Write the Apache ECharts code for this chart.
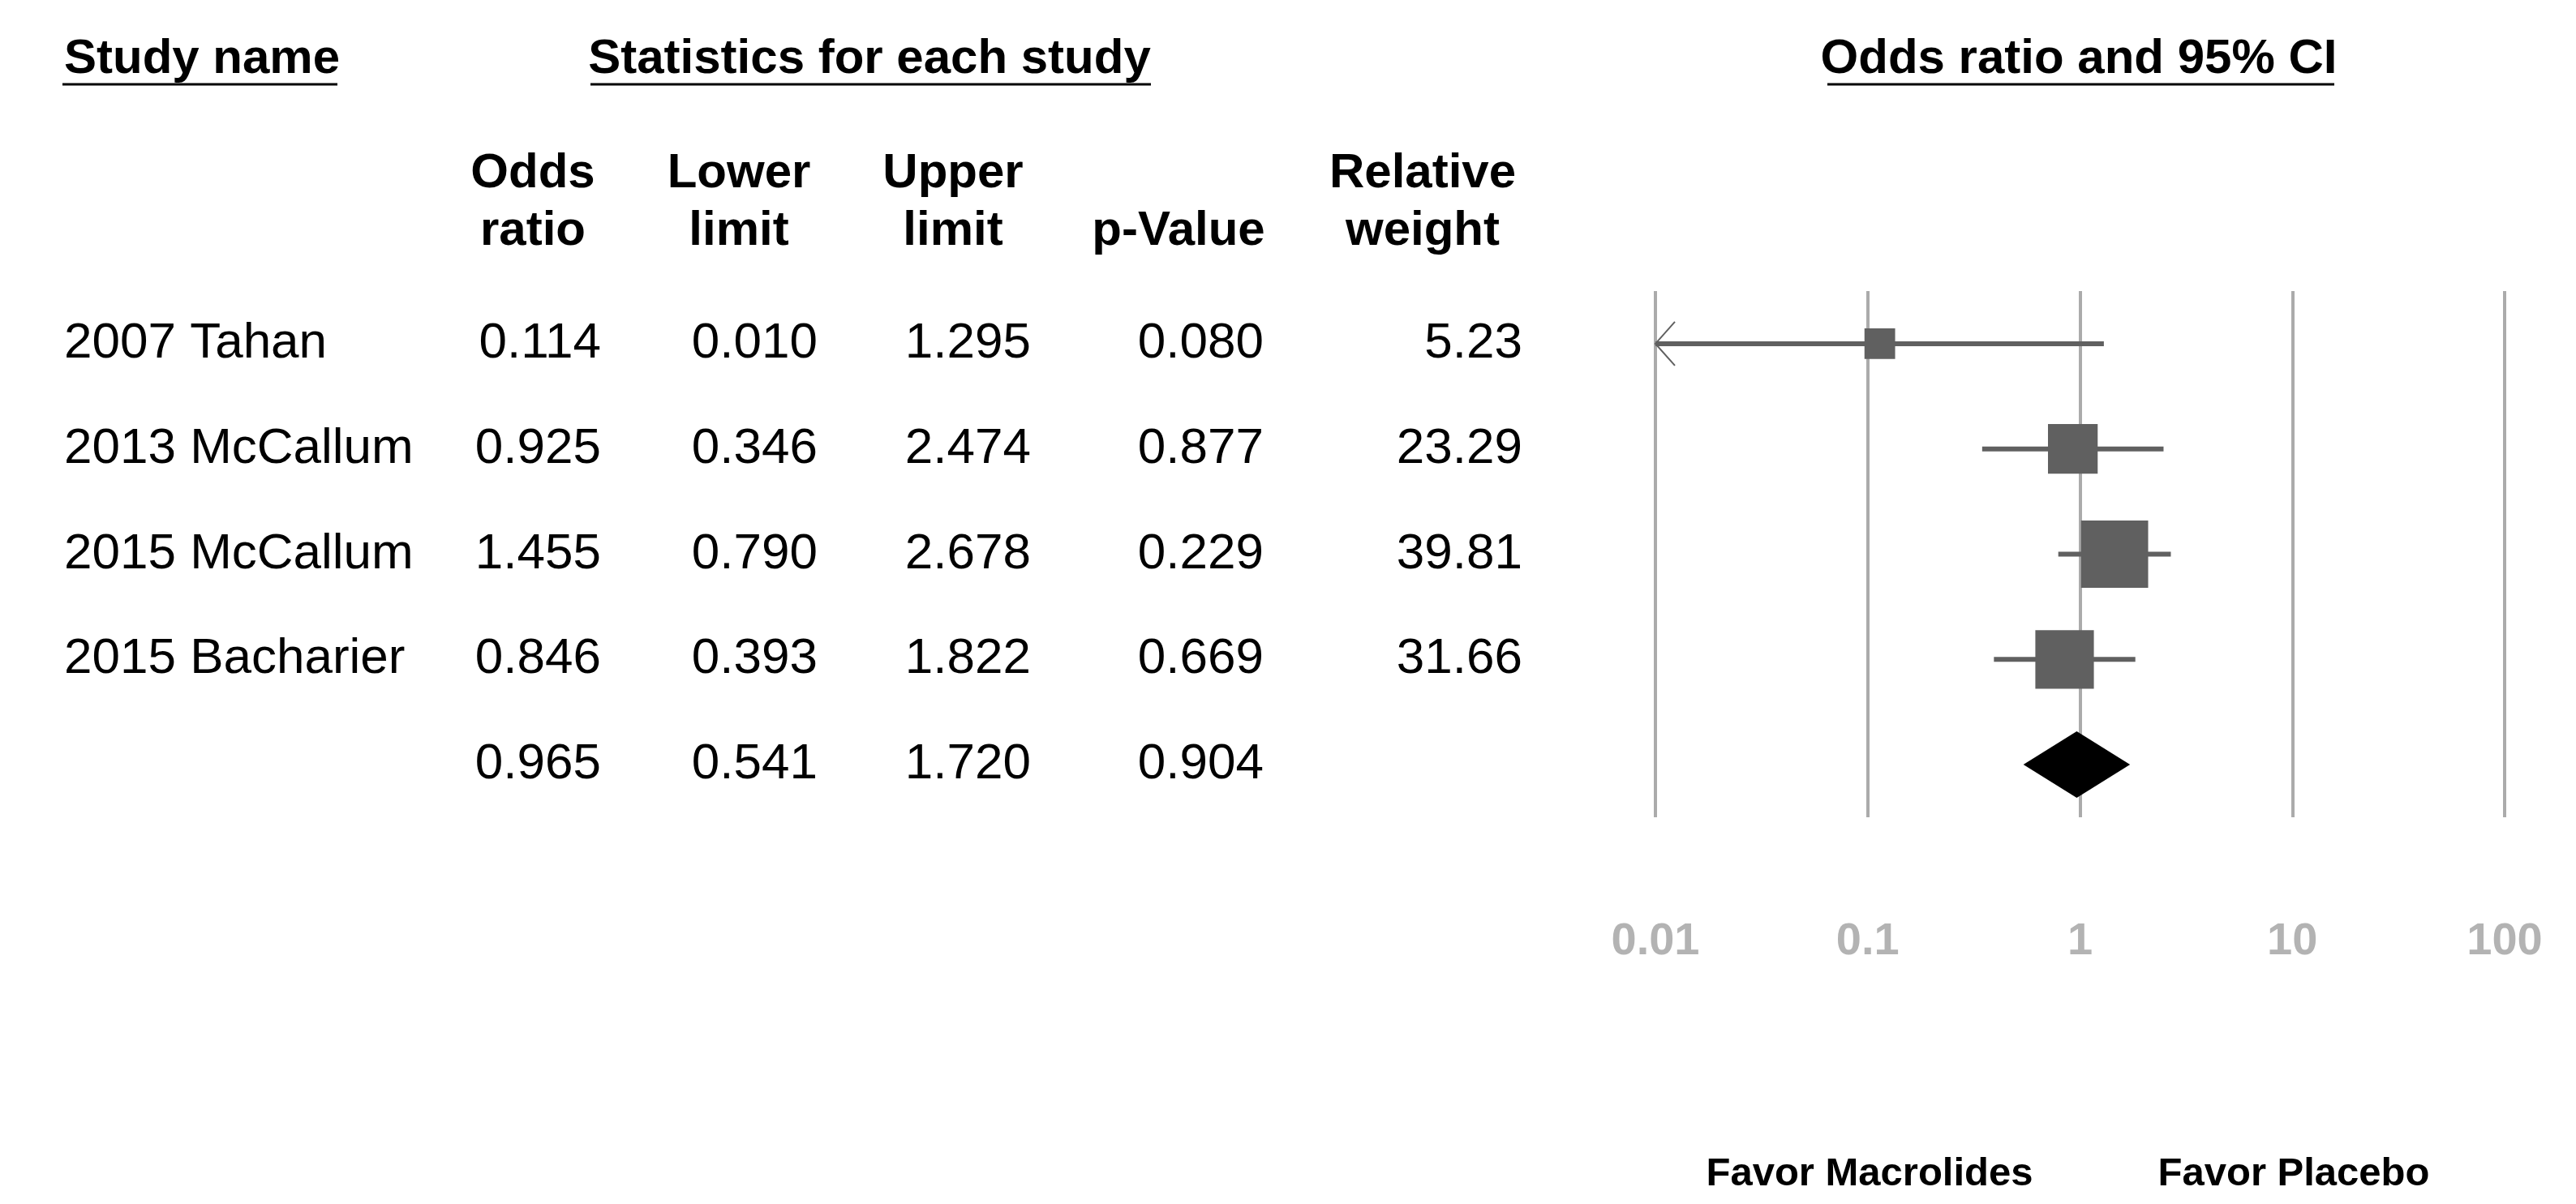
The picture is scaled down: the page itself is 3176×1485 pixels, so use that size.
<!DOCTYPE html>
<html>
<head>
	<meta charset="utf-8"/>
	<title>Macrolides vs placebo - forest plot</title>
	<script src="https://cdn.jsdelivr.net/npm/echarts@6/dist/echarts.min.js"></script>
	<style>
		* { padding: 0px; margin: 0px; }
		body { background: #fff; }
		#chart { width: 3176px; height: 1485px; }
	</style>
</head>
<body>
	<div id="chart"></div>
	<script>
		// study rows
		const studies = ['2007 Tahan', '2013 McCallum', '2015 McCallum', '2015 Bacharier'];
		const oddsRatio = [0.114, 0.925, 1.455, 0.846];
		const lowerLimit = [0.010, 0.346, 0.790, 0.393];
		const upperLimit = [1.295, 2.474, 2.678, 1.822];
		const pValue = [0.080, 0.877, 0.229, 0.669];
		const relWeight = [5.23, 23.29, 39.81, 31.66];
		// pooled: odds ratio, lower, upper, p
		const summaryStats = [0.965, 0.541, 1.720, 0.904];
		const xTicks = [0.01, 0.1, 1, 10, 100];

		const FONT = "'Liberation Sans', Arial, sans-serif";
		const GRID_LEFT = 2041;
		const rows = studies.concat(['']);

		// table column text per row (summary row has no name / weight)
		const colOdds = oddsRatio.concat([summaryStats[0]]).map(v => v.toFixed(3));
		const colLower = lowerLimit.concat([summaryStats[1]]).map(v => v.toFixed(3));
		const colUpper = upperLimit.concat([summaryStats[2]]).map(v => v.toFixed(3));
		const colP = pValue.concat([summaryStats[3]]).map(v => v.toFixed(3));
		const colWeight = relWeight.map(v => v.toFixed(2)).concat(['']);

		function tableAxis(texts, rightEdge, align) {
			return {
				type: 'category', gridIndex: 0, data: rows, inverse: true,
				position: 'left', offset: GRID_LEFT - rightEdge,
				axisLine: { show: false }, axisTick: { show: false }, splitLine: { show: false },
				axisLabel: {
					margin: 0, interval: 0, align: align || 'right',
					fontFamily: FONT, fontSize: 62, color: '#000',
					formatter: (v, i) => texts[i]
				}
			};
		}

		function ciItem(params, api) {
			const row = api.value(4);
			const lo = api.coord([api.value(0), row]);
			const hi = api.coord([api.value(1), row]);
			const mid = api.coord([api.value(2), row]);
			const side = 31 + 1.3 * api.value(3);   // box grows with weight
			const kids = [
				{ type: 'line', shape: { x1: lo[0], y1: lo[1], x2: hi[0], y2: hi[1] }, style: { stroke: '#606060', lineWidth: 6 } },
				{ type: 'rect', shape: { x: mid[0] - side / 2, y: mid[1] - side / 2, width: side, height: side }, style: { fill: '#606060' } }
			];
			if (api.value(0) <= xTicks[0]) {
				kids.push({ type: 'polyline', shape: { points: [[lo[0] + 24, lo[1] - 27], [lo[0], lo[1]], [lo[0] + 24, lo[1] + 27]] },
					style: { stroke: '#606060', lineWidth: 2, fill: null } });
			}
			return { type: 'group', children: kids };
		}

		function diamondItem(params, api) {
			const row = api.value(3);
			const lo = api.coord([api.value(0), row]);
			const hi = api.coord([api.value(1), row]);
			const mid = api.coord([api.value(2), row]);
			return { type: 'polygon', shape: { points: [[lo[0], lo[1]], [mid[0], mid[1] - 41], [hi[0], hi[1]], [mid[0], mid[1] + 41]] },
				style: { fill: '#000' } };
		}

		function headText(text, x, y, align, size) {
			return { type: 'text', x: x, y: y, style: { text: text, font: 'bold ' + (size || 60) + 'px ' + FONT, fill: '#000',
				align: align || 'center', verticalAlign: 'middle', lineHeight: 71 } };
		}
		function underline(x1, x2) {
			return { type: 'line', shape: { x1: x1, y1: 104, x2: x2, y2: 104 }, style: { stroke: '#000', lineWidth: 3 } };
		}

		const chart = echarts.init(document.getElementById('chart'));
		chart.setOption({
			animation: false,
			backgroundColor: '#fff',
			grid: { left: GRID_LEFT, right: 88, top: 359, bottom: 477 },
			xAxis: {
				type: 'log', logBase: 10, min: xTicks[0], max: xTicks[xTicks.length - 1],
				axisLine: { show: false }, axisTick: { show: false },
				splitLine: { show: true, lineStyle: { color: '#ababab', width: 4 } },
				axisLabel: {
					margin: 126, showMinLabel: true, showMaxLabel: true,
					fontFamily: FONT, fontWeight: 'bold', fontSize: 56, color: '#b3b3b3',
					formatter: v => String(+(+v).toPrecision(2))
				}
			},
			yAxis: [
				{ type: 'category', data: rows, inverse: true, show: false },
				tableAxis(rows, 79, 'left'),
				tableAxis(colOdds, 741),
				tableAxis(colLower, 1008),
				tableAxis(colUpper, 1271),
				tableAxis(colP, 1558),
				tableAxis(colWeight, 1877)
			],
			graphic: [
				headText('Study name', 79, 73, 'left'),
				underline(77, 416),
				headText('Statistics for each study', 1072, 73),
				underline(728, 1419),
				headText('Odds ratio and 95% CI', 2563, 73),
				underline(2253, 2878),
				headText('Odds\nratio', 657, 250),
				headText('Lower\nlimit', 911, 250),
				headText('Upper\nlimit', 1175, 250),
				headText('p-Value', 1453, 285),
				headText('Relative\nweight', 1754, 250),
				headText('Favor Macrolides', 2305, 1448, 'center', 49),
				headText('Favor Placebo', 2828, 1448, 'center', 49)
			],
			series: [
				{
					type: 'custom', renderItem: ciItem,
					encode: { x: [0, 1, 2], y: 4 },
					data: studies.map((s, i) => [lowerLimit[i], upperLimit[i], oddsRatio[i], relWeight[i], i]),
					z: 3
				},
				{
					type: 'custom', renderItem: diamondItem,
					encode: { x: [0, 1, 2], y: 3 },
					data: [[summaryStats[1], summaryStats[2], summaryStats[0], studies.length]],
					z: 3
				}
			]
		});
	</script>
</body>
</html>
